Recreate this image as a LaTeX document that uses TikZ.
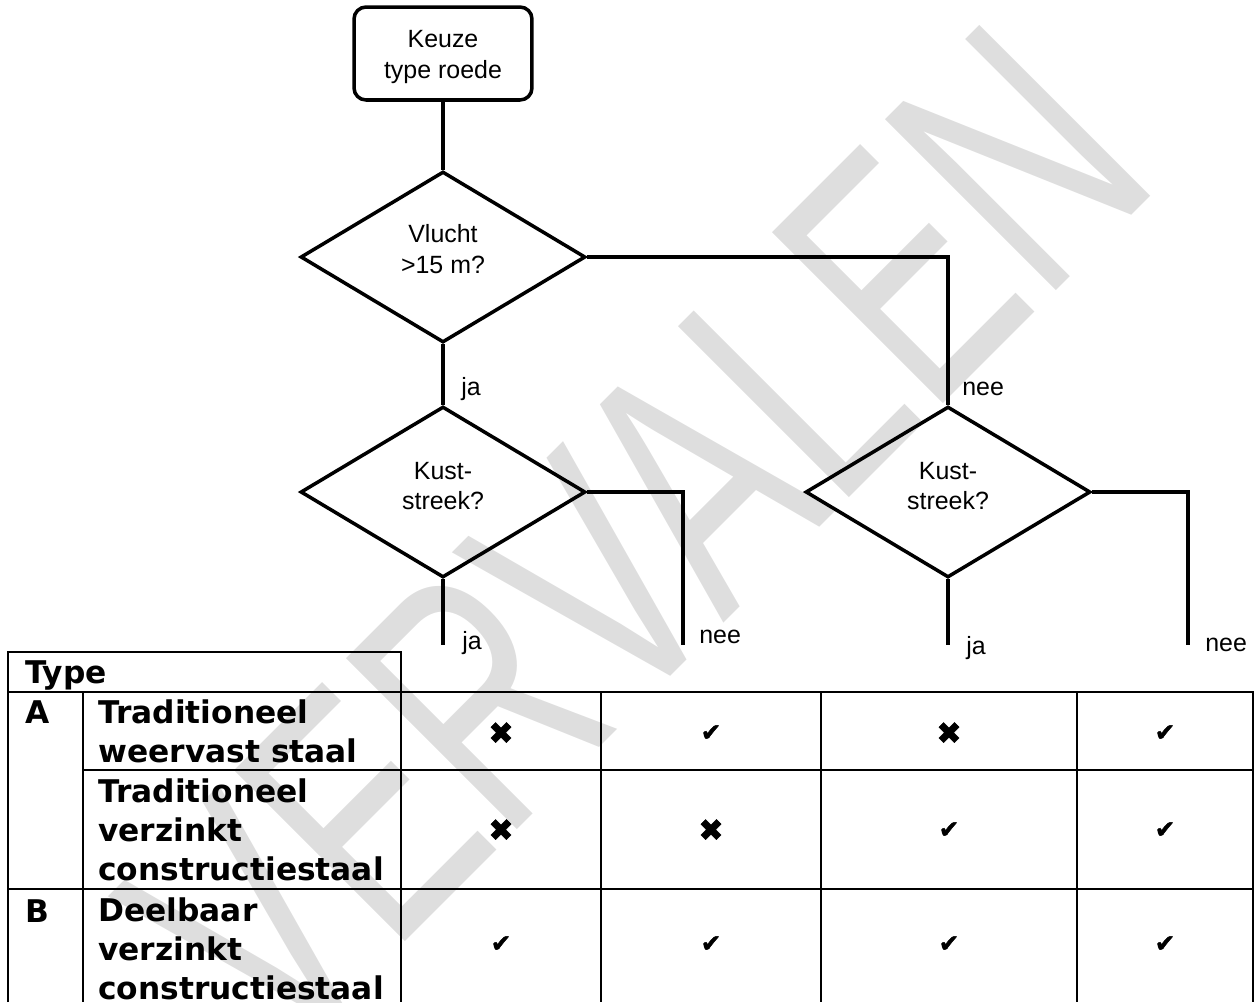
\documentclass[tikz,border=0pt]{standalone}
\usepackage{fontspec}
\setmainfont{Liberation Sans}
\newfontfamily\tabfont{DejaVu Sans}
\newfontfamily\symfont{DejaVu Sans}[FakeBold=2]
\newfontfamily\wmfont{Liberation Sans}[FakeStretch=0.68]
\usetikzlibrary{shapes.geometric}
\definecolor{wmgray}{RGB}{222,222,222}
\newcommand{\okmark}{\symfont\fontsize{14}{14}\selectfont ✔}
\newcommand{\nomark}{\symfont\fontsize{17}{17}\selectfont ✖}

\begin{document}
\begin{tikzpicture}[x=0.02cm,y=-0.02cm,font=\fontsize{14.2}{17.4}\selectfont,
  flow/.style={line width=2pt},
  grid/.style={line width=1.2pt},
  startbox/.style={draw,flow,rounded corners=0.24cm,minimum width=3.56cm,minimum height=1.86cm,inner sep=0pt},
  decision/.style={draw,flow,diamond,minimum width=5.7cm,minimum height=3.42cm,inner sep=0pt},
  lbl/.style={inner sep=0pt,anchor=base west},
  cell/.style={inner sep=0pt,anchor=base west,align=left,font=\tabfont\bfseries\fontsize{17.8}{22.2}\selectfont},
  tickmark/.style={inner sep=0pt},
  wm/.style={rotate=45,text=wmgray,inner sep=0pt,font=\wmfont\fontsize{200}{200}\selectfont}]
\useasboundingbox (0,0) rectangle (1257,1002);
\clip (0,0) rectangle (1257,1002);
\node[wm] (wm) at (636,540) {VERVALEN};

\node[startbox,label={[align=center,yshift=-0.07cm]center:{Keuze\\type roede}}] (start) at (443,53.5) {};
\node[decision,label={[align=center,yshift=0.16cm]center:{Vlucht\\>15 m?}}] (d1) at (443,257) {};
\node[decision,label={[align=center,yshift=0.12cm]center:{Kust-\\streek?}}] (d2) at (443,492) {};
\node[decision,label={[align=center,yshift=0.12cm]center:{Kust-\\streek?}}] (d3) at (948,492) {};
\coordinate (e1) at (443,645);
\coordinate (e2) at (683,645);
\coordinate (e3) at (948,645);
\coordinate (e4) at (1188,645);
\draw[flow] (start.south)--(d1.north) (d1.south)--(d2.north) (d1.east)-|(d3.north)
  (d2.south)--(e1) (d2.east)-|(e2) (d3.south)--(e3) (d3.east)-|(e4);
\node[lbl] (ja0) at (461,395) {ja};
\node[lbl] (nee0) at (962,395) {nee};
\node[lbl] (ja1) at (462,649) {ja};
\node[lbl] (nee1) at (699,643) {nee};
\node[lbl] (ja2) at (966,654) {ja};
\node[lbl] (nee2) at (1205,651) {nee};

\draw[grid] (8,1002)--(8,652)--(401,652)--(401,1002) (8,692)--(1253,692)--(1253,1002)
  (83,692)--(83,1002) (83,770)--(1253,770) (8,889)--(1253,889)
  (601,692)--(601,1002) (821,692)--(821,1002) (1077,692)--(1077,1002);
\node[cell] (hd) at (25,683) {Type};
\node[cell] (tA) at (25,723) {A};
\node[cell] (tB) at (25,922) {B};
\node[cell] (r1) at (98,762) {Traditioneel\\weervast staal};
\node[cell] (r2) at (98,880) {Traditioneel\\verzinkt\\constructiestaal};
\node[cell] (r3) at (98,999) {Deelbaar\\verzinkt\\constructiestaal};
\foreach \yy/\marks in {733/{0/501,1/711,0/949,1/1165},830/{0/501,0/711,1/949,1/1165},944/{1/501,1/711,1/949,1/1165}}
  \foreach \mk/\xx in \marks
    \node[tickmark] (m\xx-\yy) at (\xx,\yy) {\ifnum\mk=1 \okmark\else\nomark\fi};
\end{tikzpicture}
\end{document}
